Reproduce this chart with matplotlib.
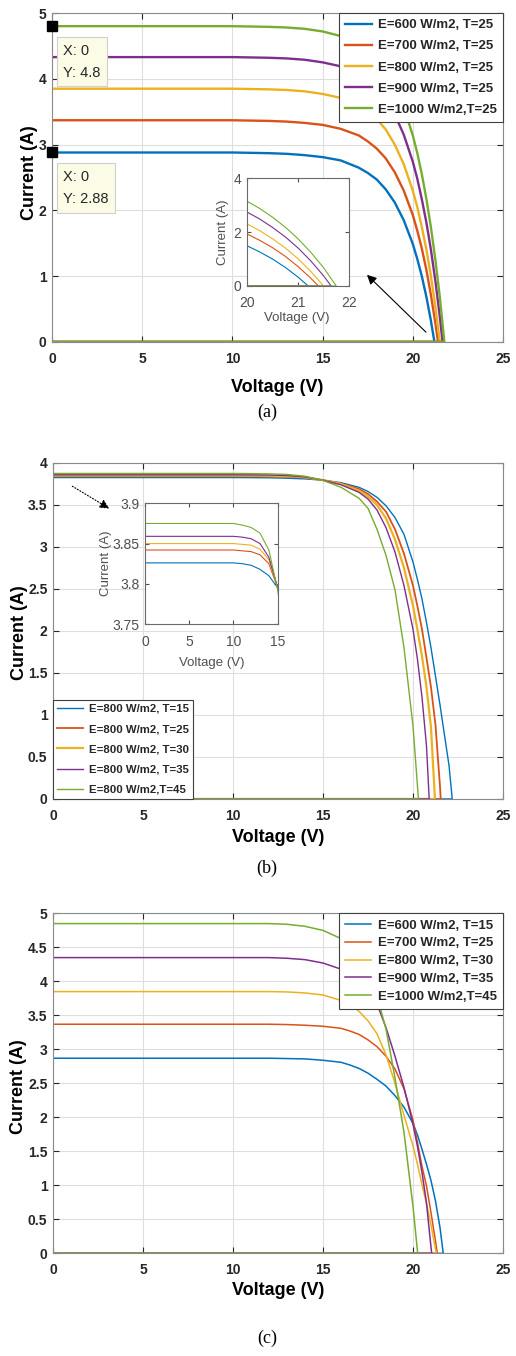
import matplotlib
matplotlib.use("Agg")
import matplotlib.pyplot as plt
from matplotlib.ticker import FuncFormatter, MultipleLocator, FixedLocator

# MATLAB default line colours
colors = ['#0072BD', '#D95319', '#EDB120', '#7E2F8E', '#77AC30']

# ---- (a) irradiance sweep, T = 25 ----
va = [0, 10, 12, 13, 14, 15, 16, 17, 17.5, 18, 18.5, 19, 19.5, 20, 20.25, 20.5, 20.75, 21, 21.25, 21.5]
ia_600 = [2.88, 2.88, 2.87, 2.86, 2.84, 2.81, 2.76, 2.65, 2.57, 2.47, 2.32, 2.12, 1.85, 1.49, 1.26, 1.00, 0.69, 0.33]
ia_700 = [3.37, 3.37, 3.36, 3.35, 3.33, 3.30, 3.24, 3.14, 3.05, 2.94, 2.79, 2.58, 2.30, 1.93, 1.69, 1.42, 1.10, 0.72, 0.29]
ia_800 = [3.85, 3.85, 3.84, 3.83, 3.81, 3.77, 3.71, 3.60, 3.51, 3.39, 3.23, 3.00, 2.70, 2.30, 2.05, 1.75, 1.41, 1.01, 0.54]
ia_900 = [4.33, 4.33, 4.32, 4.31, 4.29, 4.25, 4.19, 4.07, 3.98, 3.86, 3.69, 3.46, 3.15, 2.74, 2.48, 2.17, 1.82, 1.41, 0.93, 0.38]
ia_1000 = [4.80, 4.80, 4.79, 4.78, 4.76, 4.72, 4.65, 4.53, 4.43, 4.31, 4.13, 3.89, 3.57, 3.14, 2.87, 2.55, 2.18, 1.75, 1.25, 0.68]
voc_a = [21.2, 21.4, 21.5, 21.65, 21.75]
labels_a = ['E=600 W/m2, T=25', 'E=700 W/m2, T=25', 'E=800 W/m2, T=25',
            'E=900 W/m2, T=25', 'E=1000 W/m2,T=25']
tip_v = [0, 0]
tip_i = [4.8, 2.88]

# ---- (b) temperature sweep, E = 800 ----
vb = [0, 10, 11, 12, 13, 14, 15, 16, 17, 17.5, 18, 18.5, 19, 19.5, 20, 20.25, 20.5, 20.75, 21, 21.25, 21.5, 21.75, 22]
ib_15 = [3.826, 3.826, 3.825, 3.823, 3.818, 3.81, 3.795, 3.765, 3.71, 3.66, 3.59, 3.49, 3.35, 3.15, 2.82, 2.61, 2.38, 2.10, 1.80, 1.46, 1.12, 0.76, 0.40]
ib_25 = [3.842, 3.842, 3.841, 3.840, 3.836, 3.825, 3.795, 3.755, 3.69, 3.63, 3.54, 3.42, 3.21, 2.92, 2.54, 2.29, 2.02, 1.68, 1.33, 0.88, 0.15]
ib_30 = [3.850, 3.850, 3.849, 3.848, 3.843, 3.830, 3.795, 3.75, 3.67, 3.60, 3.50, 3.34, 3.09, 2.75, 2.30, 2.01, 1.70, 1.33, 0.85]
ib_35 = [3.859, 3.859, 3.858, 3.856, 3.850, 3.833, 3.795, 3.74, 3.65, 3.57, 3.44, 3.23, 2.94, 2.54, 2.02, 1.66, 1.21, 0.63]
ib_45 = [3.875, 3.875, 3.873, 3.870, 3.863, 3.842, 3.792, 3.71, 3.58, 3.46, 3.21, 2.90, 2.49, 1.80, 0.87, 0.15]
voc_b = [22.18, 21.54, 21.22, 20.9, 20.3]
labels_b = ['E=800 W/m2, T=15', 'E=800 W/m2, T=25', 'E=800 W/m2, T=30',
            'E=800 W/m2, T=35', 'E=800 W/m2,T=45']

# ---- (c) irradiance and temperature together ----
vc = [0, 10, 12, 13, 14, 15, 16, 16.5, 17, 17.5, 18, 18.5, 19, 19.5, 20, 20.25, 20.5, 20.75, 21, 21.25, 21.5]
ic_600 = [2.87, 2.87, 2.87, 2.865, 2.86, 2.84, 2.81, 2.77, 2.72, 2.65, 2.56, 2.46, 2.32, 2.15, 1.91, 1.74, 1.53, 1.31, 1.07, 0.77, 0.38]
ic_700 = [3.37, 3.37, 3.37, 3.365, 3.355, 3.34, 3.31, 3.27, 3.22, 3.14, 3.04, 2.90, 2.71, 2.42, 1.96, 1.63, 1.28, 0.99, 0.60, 0.18]
ic_800 = [3.85, 3.85, 3.85, 3.845, 3.83, 3.80, 3.72, 3.65, 3.56, 3.42, 3.23, 2.92, 2.50, 2.03, 1.58, 1.31, 1.01, 0.73, 0.42, 0.06]
ic_900 = [4.35, 4.35, 4.35, 4.34, 4.32, 4.27, 4.18, 4.12, 4.03, 3.90, 3.67, 3.32, 2.90, 2.44, 1.90, 1.57, 1.19, 0.74, 0.09]
ic_1000 = [4.85, 4.85, 4.85, 4.84, 4.81, 4.75, 4.63, 4.50, 4.33, 4.10, 3.78, 3.30, 2.58, 1.78, 0.69]
voc_c = [21.68, 21.35, 21.3, 21.04, 20.26]
labels_c = ['E=600 W/m2, T=15', 'E=700 W/m2, T=25', 'E=800 W/m2, T=30',
            'E=900 W/m2, T=35', 'E=1000 W/m2,T=45']


def sweep(grid, cur, voc):
    # forward sweep up to Voc, then back to 0 V along I = 0
    v = grid[:len(cur)] + [voc, 0]
    i = cur + [0, 0]
    return v, i


plt.rcParams['font.family'] = ['Liberation Sans', 'DejaVu Sans']
plt.rcParams['font.weight'] = 'bold'
plt.rcParams['text.color'] = '#262626'
plt.rcParams['xtick.color'] = '#262626'
plt.rcParams['ytick.color'] = '#262626'

fig = plt.figure(figsize=(5.16, 13.56), dpi=100)

fmt = FuncFormatter(lambda v, p: '%g' % v)


def main_style(ax, ystep, ytop, xlab_y, ylab_x, ylab_y):
    ax.set_xlim(0, 25)
    ax.set_ylim(0, ytop)
    ax.xaxis.set_major_locator(MultipleLocator(5))
    ax.yaxis.set_major_locator(MultipleLocator(ystep))
    ax.yaxis.set_major_formatter(fmt)
    ax.grid(True, color='#dedede', lw=0.8)
    ax.set_axisbelow(True)
    ax.tick_params(direction='in', top=True, right=True, length=4,
                   labelsize=10)
    ax.tick_params(axis='x', pad=7)
    ax.tick_params(axis='y', pad=4)
    for s in ax.spines.values():
        s.set_color('#8a8a8a')
        s.set_linewidth(0.8)
    ax.set_xlabel('Voltage (V)', fontsize=13, fontweight='bold', va='center')
    ax.set_ylabel('Current (A)', fontsize=13, fontweight='bold', va='center')
    ax.xaxis.set_label_coords(0.5, xlab_y)
    ax.yaxis.set_label_coords(ylab_x, ylab_y)


def inset_style(ax):
    ax.tick_params(direction='in', top=True, right=True, length=3,
                   labelsize=10, colors='#505050', pad=4)
    for lab in ax.get_xticklabels() + ax.get_yticklabels():
        lab.set_fontweight('normal')
    for s in ax.spines.values():
        s.set_color('#6a6a6a')
        s.set_linewidth(0.8)


def inset_labels(ax, xl, yl):
    ax.set_xlabel('Voltage (V)', fontsize=9.5, fontweight='normal', color='#505050', va='center')
    ax.set_ylabel('Current (A)', fontsize=9.5, fontweight='normal', color='#505050', va='center')
    ax.xaxis.set_label_coords(*xl)
    ax.yaxis.set_label_coords(*yl)


def legend(ax, loc, size, spacing, hlen, pad):
    leg = ax.legend(loc=loc, borderaxespad=0, fontsize=size, labelspacing=spacing,
                    handlelength=hlen, handletextpad=0.5, borderpad=pad, fancybox=False,
                    framealpha=1, edgecolor='#404040')
    leg.get_frame().set_linewidth(0.8)


# ================= (a) =================
ax = fig.add_axes([0.1008, 0.7478, 0.874, 0.2426])
for cur, voc, c, lab in zip([ia_600, ia_700, ia_800, ia_900, ia_1000], voc_a, colors, labels_a):
    v, i = sweep(va, cur, voc)
    ax.plot(v, i, color=c, lw=1.7, label=lab)
main_style(ax, 1, 5, -0.137, -0.049, 0.514)
legend(ax, 'upper right', 9.5, 0.68, 2.0, 0.45)
ax.plot(tip_v, tip_i, 's', color='k', ms=6.5, clip_on=False, zorder=6)
for ty, tv, ti in zip([4.26, 2.34], tip_v, tip_i):
    ax.text(0.62, ty, 'X: %g\nY: %g' % (tv, ti), ha='left', va='center',
            fontsize=10.5, fontweight='normal', linespacing=1.75, color='#262626', zorder=7,
            bbox=dict(boxstyle='square,pad=0.45', fc='#fbfbe6', ec='#cfcfcf', lw=0.8))
ax.annotate('', xy=(17.35, 1.05), xytext=(20.84, 0.12),
            arrowprops=dict(arrowstyle='-|>', color='k', lw=0.8, mutation_scale=14))

axi = fig.add_axes([0.4787, 0.7891, 0.1977, 0.0796])
for cur, voc, c in zip([ia_600, ia_700, ia_800, ia_900, ia_1000], voc_a, colors):
    v, i = sweep(va, cur, voc)
    axi.plot(v, i, color=c, lw=0.8)
axi.set_xlim(20, 22)
axi.set_ylim(0, 4)
axi.xaxis.set_major_locator(FixedLocator([20, 21, 22]))
axi.yaxis.set_major_locator(FixedLocator([0, 2, 4]))
axi.xaxis.set_major_formatter(fmt)
axi.yaxis.set_major_formatter(fmt)
inset_style(axi)
axi.tick_params(axis='x', pad=7)
inset_labels(axi, (0.49, -0.296), (-0.235, 0.5))

fig.text(0.517, 0.6962, '(a)', ha='center', va='center', fontsize=13,
         fontweight='normal', family=['Liberation Serif', 'DejaVu Serif'], color='k')

# ================= (b) =================
ax = fig.add_axes([0.1027, 0.4108, 0.8721, 0.2478])
lw_b = [1.0, 1.3, 1.6, 1.0, 1.0]
for cur, voc, c, lab, lw in zip([ib_15, ib_25, ib_30, ib_35, ib_45], voc_b, colors, labels_b, lw_b):
    v, i = sweep(vb, cur, voc)
    ax.plot(v, i, color=c, lw=lw, label=lab)
main_style(ax, 0.5, 4, -0.116, -0.075, 0.494)
legend(ax, 'lower left', 8.2, 0.9, 2.3, 0.35)
ax.annotate('', xy=(3.26, 3.44), xytext=(0.94, 3.74),
            arrowprops=dict(arrowstyle='-|>', color='k', lw=0.8, ls=':', mutation_scale=14))

axi = fig.add_axes([0.2810, 0.5398, 0.2572, 0.0890])
for cur, voc, c in zip([ib_15, ib_25, ib_30, ib_35, ib_45], voc_b, colors):
    v, i = sweep(vb, cur, voc)
    axi.plot(v, i, color=c, lw=0.8)
axi.set_xlim(0, 15)
axi.set_ylim(3.75, 3.9)
axi.xaxis.set_major_locator(FixedLocator([0, 5, 10, 15]))
axi.yaxis.set_major_locator(FixedLocator([3.75, 3.8, 3.85, 3.9]))
axi.xaxis.set_major_formatter(fmt)
axi.yaxis.set_major_formatter(fmt)
inset_style(axi)
axi.tick_params(axis='x', pad=8)
inset_labels(axi, (0.503, -0.323), (-0.294, 0.505))

fig.text(0.517, 0.3599, '(b)', ha='center', va='center', fontsize=13,
         fontweight='normal', family=['Liberation Serif', 'DejaVu Serif'], color='k')

# ================= (c) =================
ax = fig.add_axes([0.1027, 0.0757, 0.8721, 0.2507])
for cur, voc, c, lab in zip([ic_600, ic_700, ic_800, ic_900, ic_1000], voc_c, colors, labels_c):
    v, i = sweep(vc, cur, voc)
    ax.plot(v, i, color=c, lw=1.1, label=lab)
main_style(ax, 0.5, 5, -0.108, -0.077, 0.489)
legend(ax, 'upper right', 9.5, 0.42, 2.0, 0.45)

fig.text(0.517, 0.0133, '(c)', ha='center', va='center', fontsize=13,
         fontweight='normal', family=['Liberation Serif', 'DejaVu Serif'], color='k')

fig.savefig('out.png', dpi=100, facecolor='white')
